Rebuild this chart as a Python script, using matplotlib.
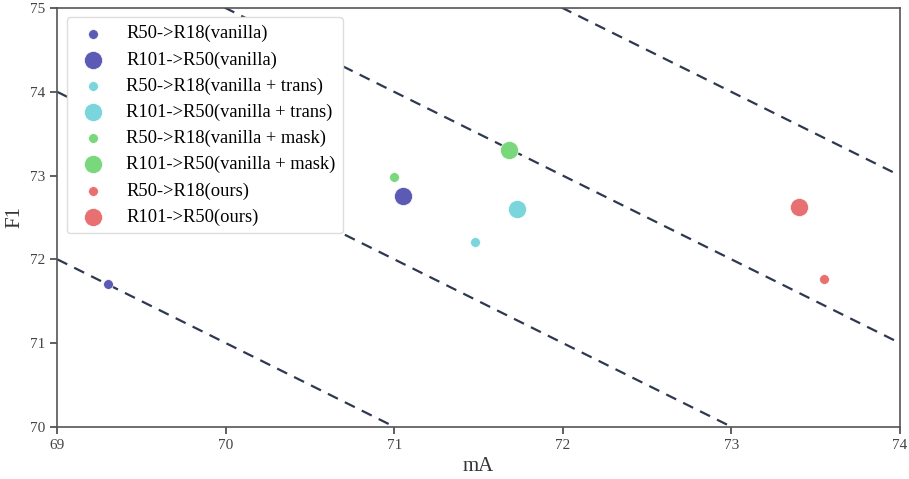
import numpy as np
import matplotlib.pyplot as plt

plt.rcParams['font.family'] = ['Liberation Serif', 'DejaVu Serif']

# data
labels = ['R50->R18(vanilla)', 'R101->R50(vanilla)',
          'R50->R18(vanilla + trans)', 'R101->R50(vanilla + trans)',
          'R50->R18(vanilla + mask)', 'R101->R50(vanilla + mask)',
          'R50->R18(ours)', 'R101->R50(ours)']
mA = [69.30, 71.05, 71.48, 71.73, 71.00, 71.68, 73.55, 73.40]
F1 = [71.70, 72.76, 72.21, 72.60, 72.98, 73.30, 71.77, 72.62]
colors = ['#5b5bb6', '#5b5bb6', '#7ad5dc', '#7ad5dc',
          '#79d87c', '#79d87c', '#e87070', '#e87070']
sizes = [50, 170] * 4

# iso lines mA + F1 = const
iso_sums = [141, 143, 145, 147]

fig, ax = plt.subplots(figsize=(9.09, 4.79), dpi=100)
fig.subplots_adjust(left=0.063, right=0.990, top=0.983, bottom=0.109)

xs = np.array([69, 74])
for c in iso_sums:
    ax.plot(xs, c - xs, linestyle=(0, (5, 3.5)), color='#2e3850', linewidth=1.6, zorder=1)

for x, y, c, s, lab in zip(mA, F1, colors, sizes, labels):
    ax.scatter(x, y, s=s, color=c, label=lab, edgecolors='white', linewidths=0.5, zorder=3)

ax.set_xlim(69, 74)
ax.set_ylim(70, 75)
ax.set_xticks(np.arange(69, 75, 1))
ax.set_yticks(np.arange(70, 76, 1))
ax.set_xlabel('mA', fontsize=15, color='#333333')
ax.set_ylabel('F1', fontsize=15, color='#333333')
ax.tick_params(axis='both', labelsize=11, colors='#444444', direction='out', length=5, width=1.2)
ax.tick_params(top=False, right=False)
for sp in ax.spines.values():
    sp.set_color('#555555')
    sp.set_linewidth(1.2)

leg = ax.legend(loc='upper left', fontsize=13.3, frameon=True, framealpha=1, borderpad=0.42,
                labelspacing=0.48, handletextpad=0.8, borderaxespad=0.5)
leg.get_frame().set_edgecolor('#dddddd')

plt.savefig('out.png', dpi=100)
